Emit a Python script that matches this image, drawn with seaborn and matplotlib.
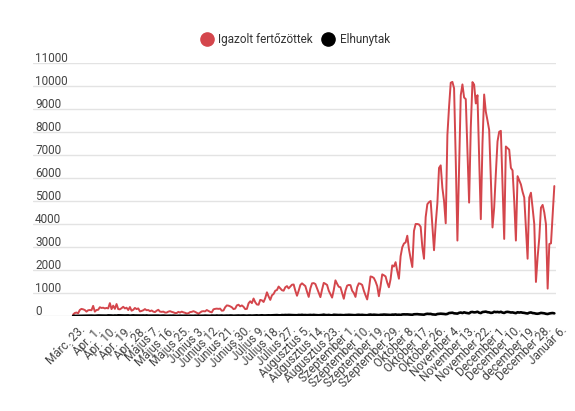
import matplotlib
matplotlib.use("Agg")
import matplotlib.pyplot as plt
import matplotlib.transforms as mtransforms
from matplotlib.lines import Line2D
import numpy as np
import pandas as pd
import seaborn as sns

###### adatok (napi értékek, márc. 23. - jan. 6.)
igazolt = [
    60, 130, 150, 120, 260, 310, 290, 260, 190,
    250, 260, 250, 440, 190, 260, 270,
    380, 350, 360, 330, 350, 330, 560,
    300, 450, 310, 520, 300, 290, 340,
    400, 330, 360, 260, 390, 230, 270,
    350, 300, 330, 200, 220, 250, 300,
    250, 260, 210, 240, 190, 170, 230,
    270, 190, 180, 190, 150, 150, 190,
    210, 180, 160, 130, 130, 180, 150,
    190, 160, 140, 110, 120, 170, 180,
    210, 180, 140, 100, 150, 200, 210,
    200, 260, 220, 180, 160, 290, 310,
    320, 310, 320, 230, 240, 380, 460,
    450, 420, 380, 300, 320, 460, 490,
    420, 460, 400, 300, 310, 550, 640,
    560, 760, 600, 500, 490, 700, 680,
    610, 780, 1030, 850, 700, 900, 960,
    1100, 1130, 1280, 1200, 1120, 1100, 1250,
    1300, 1200, 1280, 1360, 1370, 1100, 880,
    1100, 1350, 1420, 1360, 1300, 1050, 830,
    1200, 1420, 1430, 1390, 1200, 1000, 820,
    1150, 1440, 1400, 1350, 1100, 950, 800,
    1130, 1550, 1400, 1270, 1250, 1000, 750,
    1100, 1320, 1350, 1340, 1100, 1000, 830,
    1250, 1420, 1400, 1350, 1100, 900, 720,
    1150, 1720, 1700, 1650, 1500, 1300, 860,
    1300, 1810, 1770, 1720, 1450, 1250, 1600,
    2200, 2150, 2340, 1950, 1620, 2600, 2990,
    3150, 3200, 3490, 2900, 2500, 2130, 3700,
    4000, 4000, 3980, 3880, 3000, 2490, 4300,
    4860, 4950, 5000, 3900, 2860, 4000, 4900,
    6440, 6550, 5570, 5000, 4030, 7870, 9100,
    10140, 10180, 9900, 6800, 3280, 6500, 9600,
    10070, 9500, 9430, 7200, 4930, 8200, 10170,
    10060, 9240, 9600, 6900, 4210, 7500, 9630,
    8880, 8500, 8090, 6000, 3850, 4710, 6200,
    7590, 8010, 8050, 5700, 3350, 7370, 7300,
    7230, 6440, 6330, 5000, 3280, 6080, 5900,
    5720, 5400, 5150, 3800, 2490, 5150, 5360,
    4700, 3990, 1480, 2560, 3400, 4710, 4830,
    4500, 3990, 1190, 3130, 3160, 4400, 5650,
]

elhunytak = [
    3, 3, 6, 5, 7, 9, 10, 14, 14,
    20, 15, 17, 14, 11, 18, 21,
    20, 18, 20, 21, 15, 26, 25,
    21, 14, 22, 17, 29, 26, 20,
    23, 19, 22, 25, 14, 21, 26,
    20, 19, 15, 19, 18, 21, 16,
    23, 14, 15, 16, 13, 20, 15,
    17, 11, 16, 18, 12, 8, 11,
    14, 12, 16, 9, 6, 10, 13,
    11, 9, 13, 8, 7, 12, 10,
    8, 14, 11, 16, 9, 10, 12,
    17, 12, 11, 10, 18, 16, 13,
    21, 14, 17, 20, 12, 15, 18,
    16, 22, 20, 12, 15, 21, 22,
    17, 19, 23, 18, 13, 20, 22,
    16, 21, 24, 28, 19, 25, 31,
    23, 22, 27, 30, 26, 29, 33,
    35, 39, 31, 28, 41, 37, 44,
    40, 46, 42, 38, 36, 35, 33,
    45, 41, 50, 39, 42, 36, 43,
    46, 39, 48, 40, 37, 32, 38,
    44, 57, 42, 38, 46, 35, 30,
    53, 49, 47, 41, 45, 39, 34,
    44, 45, 51, 48, 43, 37, 36,
    49, 53, 44, 50, 41, 39, 33,
    54, 61, 47, 56, 49, 45, 40,
    52, 54, 62, 58, 50, 48, 45,
    59, 57, 66, 50, 56, 48, 67,
    71, 68, 70, 64, 59, 53, 75,
    79, 81, 72, 69, 62, 58, 83,
    96, 89, 92, 71, 66, 59, 87,
    96, 101, 97, 89, 78, 92, 129,
    135, 143, 117, 112, 104, 137, 151,
    128, 160, 139, 126, 115, 168, 175,
    157, 164, 186, 144, 127, 171, 182,
    190, 166, 158, 135, 142, 184, 168,
    177, 161, 183, 148, 133, 171, 180,
    169, 152, 157, 138, 124, 163, 149,
    161, 143, 136, 119, 109, 142, 155,
    128, 121, 103, 98, 112, 135, 124,
    117, 96, 87, 108, 122, 129, 115,
]

datum_cimkek = [
    "Márc. 23.", "Ápr. 1.", "Ápr. 10.", "Ápr. 19.", "Ápr. 28.",
    "Május 7.", "Május 16.", "Május 25.", "Június 3.", "Június 12.",
    "Június 21.", "Június 30.", "Július 9.", "Július 18.", "Július 27.",
    "Augusztus 5.", "Augusztus 14.", "Augusztus 23.", "Szeptember 1.",
    "Szeptember 10.", "Szeptember 19.", "Szeptember 29.", "Október 8.",
    "Október 17.", "Október 26.", "November 4.", "November 13.",
    "November 22.", "December 1.", "December 10.", "december 19.",
    "December 28.", "Január 6.",
]
y_ertekek = list(range(0, 11001, 1000))

sorozatok = ["Igazolt fertőzöttek", "Elhunytak"]
szinek = {"Igazolt fertőzöttek": "#d4464c", "Elhunytak": "#000000"}

###### long formátum a seabornnak
nap = np.arange(len(igazolt))
df = pd.DataFrame({"nap": nap, "Igazolt fertőzöttek": igazolt, "Elhunytak": elhunytak})
df_long = df.melt(id_vars="nap", value_vars=sorozatok, var_name="sorozat", value_name="ertek")

sns.set_theme(style="whitegrid")
plt.rcParams["font.family"] = ["Roboto", "DejaVu Sans"]

fig = plt.figure(figsize=(5.75, 4.11), dpi=100)
ax = fig.add_axes([33 / 575, 95 / 411, (556 - 33) / 575, 253 / 411])

sns.lineplot(data=df_long, x="nap", y="ertek", hue="sorozat", hue_order=sorozatok,
             palette=szinek, linewidth=1.4, legend=False, ax=ax)
# az elhunytak vonala kicsit vastagabb
ax.lines[1].set_linewidth(1.9)

ax.set_xlim(-24, 289)
ax.set_ylim(0, 11000)
ax.set_xlabel("")
ax.set_ylabel("")
for s in ax.spines.values():
    s.set_visible(False)

ax.grid(axis="x", visible=False)
ax.grid(axis="y", color="#e3e3e3", linewidth=1.0)

# x tengely
ax.set_xticks(nap[::9])
ax.set_xticklabels(datum_cimkek, rotation=45, ha="right", rotation_mode="anchor",
                   fontsize=8.5, color="#444444")
ax.tick_params(axis="x", length=0, pad=3)
x_eltolas = mtransforms.ScaledTranslation(6 / 100, -3 / 100, fig.dpi_scale_trans)
for lab in ax.get_xticklabels():
    lab.set_transform(lab.get_transform() + x_eltolas)

# y tengely - feliratok a rácsvonal fölött, balra
ax.set_yticks(y_ertekek)
ax.set_yticklabels([str(v) for v in y_ertekek], fontsize=8.5, color="#444444")
ax.tick_params(axis="y", length=0, pad=-1.5)
y_eltolas = mtransforms.ScaledTranslation(0, -2 / 100, fig.dpi_scale_trans)
for lab in ax.get_yticklabels():
    lab.set_horizontalalignment("left")
    lab.set_verticalalignment("bottom")
    lab.set_transform(lab.get_transform() + y_eltolas)

# jelmagyarázat
kezelok = [Line2D([], [], linestyle="none", marker="o", markersize=9.5,
                  markerfacecolor=szinek[s], markeredgecolor=szinek[s]) for s in sorozatok]
fig.legend(kezelok, sorozatok, loc="center", bbox_to_anchor=(0.515, 0.903), ncol=2,
           frameon=False, fontsize=8.5, handlelength=0.8, handletextpad=0.6,
           columnspacing=0.9, labelcolor="#333333")

fig.savefig("out.png", dpi=100)
